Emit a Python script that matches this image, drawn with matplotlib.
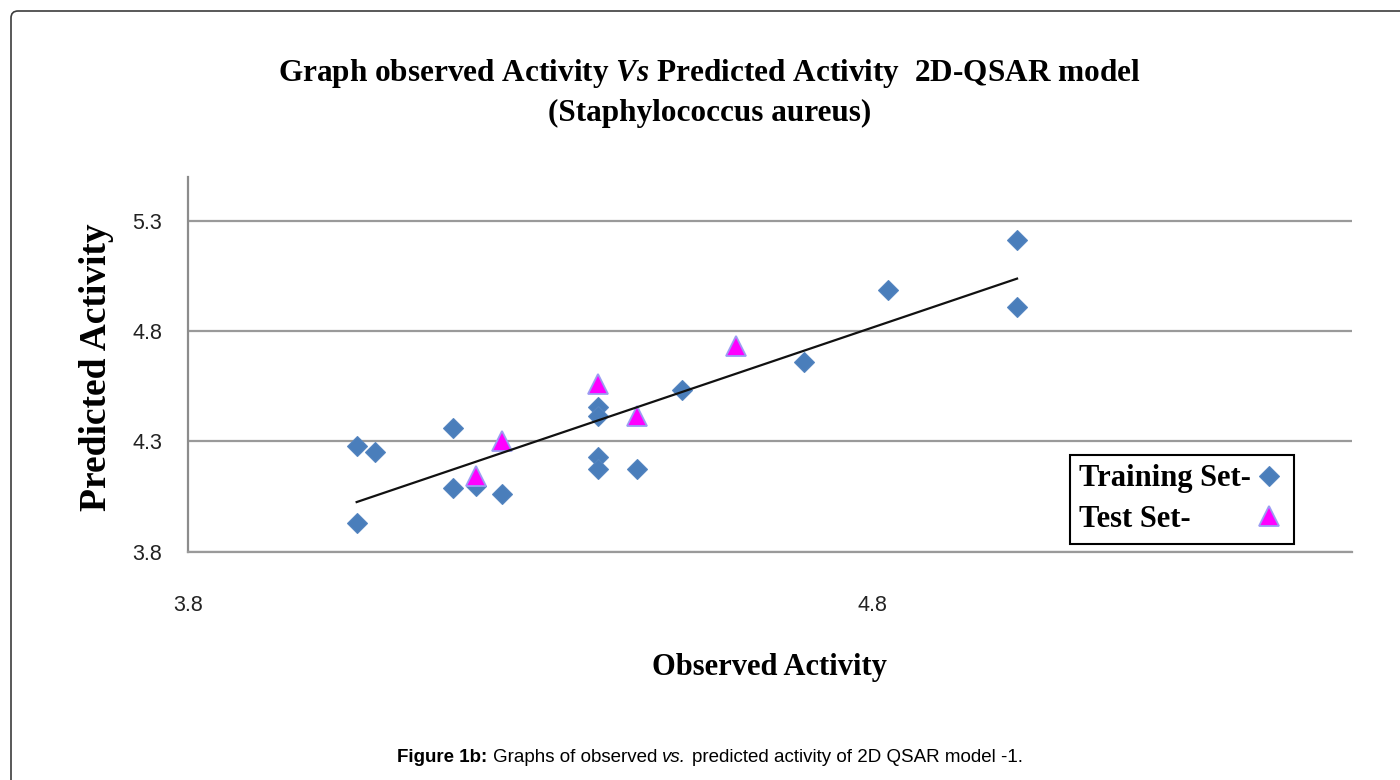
import matplotlib
matplotlib.use("Agg")
import matplotlib.pyplot as plt
from matplotlib.patches import FancyBboxPatch
from matplotlib.transforms import IdentityTransform
from matplotlib.offsetbox import TextArea, HPacker, AnchoredOffsetbox

# ---- data ----
train_x = [4.046, 4.073, 4.187, 4.187, 4.221, 4.258, 4.046, 4.399, 4.399,
           4.399, 4.399, 4.456, 4.521, 4.700, 4.822, 5.011, 5.011]
train_y = [4.277, 4.250, 4.361, 4.091, 4.099, 4.061, 3.929, 4.455, 4.414,
           4.228, 4.176, 4.176, 4.532, 4.659, 4.986, 5.211, 4.911]
test_x = [4.258, 4.221, 4.399, 4.456, 4.601]
test_y = [4.300, 4.141, 4.558, 4.414, 4.732]
trend_x = [4.046, 5.011]
trend_y = [4.025, 5.038]

x_ticks = [3.8, 4.8]
x_tick_labels = ["3.8", "4.8"]
y_ticks = [3.8, 4.3, 4.8, 5.3]
y_tick_labels = ["3.8", "4.3", "4.8", "5.3"]

title_text = ("Graph observed Activity $\\mathit{Vs}$ Predicted Activity  2D-QSAR model\n"
              "(Staphylococcus aureus)")
x_label = "Observed Activity"
y_label = "Predicted Activity"
series_labels = ["Training Set-", "Test Set-"]
caption_parts = ["Figure 1b:", "Graphs of observed", "vs.",
                 "predicted activity of 2D QSAR model -1."]

# ---- style ----
plt.rcParams['font.family'] = ['Liberation Sans', 'DejaVu Sans']
plt.rcParams['mathtext.fontset'] = 'custom'
plt.rcParams['mathtext.it'] = 'Liberation Serif:italic:bold'
plt.rcParams['mathtext.rm'] = 'Liberation Serif:bold'

W, H = 1400, 780
fig = plt.figure(figsize=(W / 100, H / 100), dpi=100)
fig.patch.set_facecolor('white')

# outer rounded border
border = FancyBboxPatch((11, -100), 1700, H - 11 + 100,
                        boxstyle="round,pad=0,rounding_size=7",
                        transform=IdentityTransform(), fill=False,
                        edgecolor='#3c3c3c', linewidth=1.2)
fig.add_artist(border)

ax = fig.add_axes([188.3 / W, 1 - 551.7 / H, 1163.4 / W, 375 / H])

ax.plot(train_x, train_y, linestyle='none', marker='D', ms=10.3,
        mfc='#4A7EBB', mec='#5585C0', mew=0.8, label=series_labels[0], zorder=3)
ax.plot(test_x, test_y, linestyle='none', marker='^', ms=14,
        mfc='#FF00FF', mec='#9C9CF2', mew=1.3, label=series_labels[1], zorder=4)
ax.plot(trend_x, trend_y, color='#111111', lw=1.6, zorder=5)

ax.set_xlim(3.8, 5.5)
ax.set_ylim(3.8, 5.5)
ax.set_xticks(x_ticks, x_tick_labels)
ax.set_yticks(y_ticks, y_tick_labels)
ax.grid(axis='y', color='#9a9a9a', lw=1.6)
ax.grid(axis='x', visible=False)
ax.set_axisbelow(True)
ax.tick_params(length=0, labelsize=15.5, labelcolor='#222222')
ax.tick_params(axis='y', pad=19)
ax.tick_params(axis='x', pad=31)
for s in ['top', 'right']:
    ax.spines[s].set_visible(False)
ax.spines['left'].set_color('#8c8c8c')
ax.spines['left'].set_linewidth(1.6)
ax.spines['bottom'].set_color('#9a9a9a')
ax.spines['bottom'].set_linewidth(1.6)

serif = dict(family='Liberation Serif', weight='bold', color='black')
ax.set_ylabel(y_label, size=27, **serif)
ax.yaxis.set_label_coords((96 - 188.3) / 1163.4, 0.491)
ax.yaxis.label.set_va('center')
ax.set_xlabel(x_label, size=22, **serif)
ax.xaxis.set_label_coords((769 - 188.3) / 1163.4, (551.7 - 668) / 375)
ax.xaxis.label.set_va('center')

fig.text(709.5 / W, 1 - 57 / H, title_text, ha='center', va='top',
         multialignment='center', size=22.5, linespacing=1.42, **serif)

leg = ax.legend(loc='upper left', bbox_to_anchor=(1070 / W, 1 - 455 / H),
                bbox_transform=fig.transFigure, markerfirst=False,
                prop=dict(family='Liberation Serif', weight='bold', size=22),
                frameon=True, fancybox=False, edgecolor='black', framealpha=1,
                borderpad=0.31, labelspacing=0.38, handlelength=0.97,
                handletextpad=0.1, borderaxespad=0)
leg.get_frame().set_linewidth(1.5)

# caption
cap_fs = 13.5
cap_props = [dict(weight='bold'), dict(), dict(style='italic'), dict()]
areas = [TextArea(t, textprops=dict(size=cap_fs, family='Liberation Sans',
                                    color='black', **p))
         for t, p in zip(caption_parts, cap_props)]
hp = HPacker(children=areas, align='baseline', pad=0, sep=3.7)
ab = AnchoredOffsetbox(loc='center', child=hp, pad=0, borderpad=0, frameon=False,
                       bbox_to_anchor=(710 / W, 1 - 758 / H),
                       bbox_transform=fig.transFigure)
fig.add_artist(ab)

# left-align legend labels (markers stay on the right)
fig.canvas.draw()
texts = leg.get_texts()
w0 = texts[0].get_window_extent().width
w1 = texts[1].get_window_extent().width
texts[1].set_x(-(w0 - w1))

fig.savefig('out.png', dpi=100, facecolor='white')
